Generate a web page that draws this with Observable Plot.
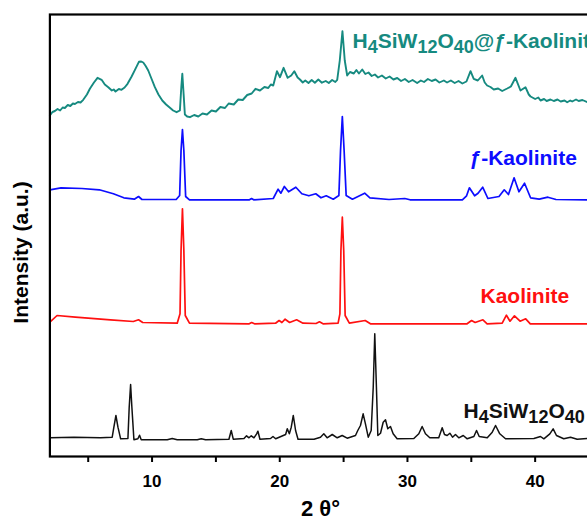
<!DOCTYPE html>
<html><head><meta charset="utf-8">
<script src="https://cdn.jsdelivr.net/npm/d3@7"></script>
<script src="https://cdn.jsdelivr.net/npm/@observablehq/plot@0.6"></script>
<style>
html,body{margin:0;padding:0;background:#fff;overflow:hidden;width:587px;height:521px}
#chart svg{max-width:none !important;}
</style></head><body><div id="chart"></div>
<script>
// ---- data (2θ in degrees, intensity in arbitrary units, traces stacked) ----
// [2θ, intensity] pairs
const tealPoints = [[2.00,341],[2.2,344.5],[2.39,345.5],[2.6,347.5],[2.8,346],[3.0,349],[3.17,348.5],[3.4,351.5],[3.6,350.5],[3.8,353],[3.96,352.5],[4.2,354.5],[4.4,354],[4.61,356.7],[4.9,362],[5.13,367.7],[5.45,374],[5.73,378.7],[6.05,376.7],[6.3,372],[6.57,369.3],[6.85,366],[7.0,367],[7.14,365],[7.4,367.5],[7.61,366.7],[7.85,369],[8.08,372.7],[8.4,380],[8.66,386.7],[8.97,394.7],[9.15,395],[9.31,394],[9.5,390.5],[9.70,386],[9.95,378],[10.22,369.3],[10.5,362],[10.80,356],[11.1,352],[11.40,348.7],[11.65,346],[11.92,344.3],[12.18,346],[12.29,369.3],[12.37,382.7],[12.47,362.7],[12.57,342],[12.75,340],
  [12.97,339.3],[13.3,341.5],[13.62,340],[13.95,343],[14.3,342],[14.66,346],[15.0,345],[15.35,349.5],[15.71,348.5],[16.0,353],[16.4,352],[16.75,357],[17.1,356.5],[17.45,361.5],[17.80,363],[18.1,367.7],[18.45,366],[18.8,369.5],[19.10,368.5],[19.3,372],[19.49,371],[19.78,385.3],[20.02,379.3],[20.30,388.7],[20.62,378.7],[20.9,381],[21.14,385.3],[21.4,379],[21.58,377],[21.8,374],[22.0,376],[22.25,373.5],[22.50,376.5],[22.75,373.8],[23.02,377],[23.3,373.8],[23.6,375.5],[23.84,373.5],[24.1,376.5],[24.35,374.5],[24.5,376.7],[24.70,396],[24.91,425.3],[25.09,396],[25.28,381],
  [25.5,384.5],[25.80,383],[26.0,386.5],[26.2,383],[26.46,387],[26.7,382.5],[26.95,384],[27.2,380.5],[27.45,382],[27.7,379],[28.0,381],[28.3,378],[28.6,380],[28.9,377],[29.2,378.5],[29.5,375.5],[29.8,377.5],[30.1,374.5],[30.4,376.5],[30.76,373.5],[31.05,376],[31.3,374.5],[31.6,377.5],[31.9,375.5],[32.2,377],[32.5,374],[32.85,376],[33.1,374],[33.4,376],[33.7,373.5],[34.0,375.5],[34.3,373],[34.62,375],[34.94,385.3],[35.19,377.7],[35.51,376],[35.85,381],[36.05,374],[36.24,371],[36.5,369.5],[36.76,367],[37.1,368],[37.42,365.5],[37.81,368],[38.1,370],[38.46,378.7],[38.85,366],[39.24,369.3],[39.5,362],[39.64,360],[40.0,357.5],[40.25,359],[40.42,356],[40.7,357.5],[40.9,355.5],[41.2,357],[41.46,355.5],[41.75,357],[42.0,355],[42.3,356],[42.51,354.2],[42.75,356],[42.9,355],[43.2,357],[43.41,355.5],[43.7,356.5],[44.1,354.3],[45.0,355]];

const blueTheta = [2.00,2.87,4.51,5.87,6.97,7.79,8.61,8.94,9.21,11.89,12.16,12.27,12.38,12.49,12.63,12.93,17.63,17.79,17.96,19.49,19.87,20.09,20.36,20.69,21.26,21.73,22.28,22.82,23.23,23.64,24.19,24.63,24.76,24.90,25.04,25.20,25.69,26.65,27.06,28.56,29.79,30.2,34.30,34.63,34.85,35.26,35.53,35.89,36.30,37.17,37.58,37.91,38.35,38.73,39.17,39.64,40.32,41.0,41.63,44.1,45.0];
const blueIntensity = [266.7,268.7,268,266.7,262.7,258.7,257.3,260,257,257,261,306,327,306,260,256.7,256.7,258,256.7,258,267.3,263.3,270,264.7,269.3,262.7,260.7,262.7,258.7,260.7,257.3,261,306,340,306,261,257.3,263.3,258.7,257,258,256.7,256.7,260.7,268.7,260.7,263.3,269.3,258,260,266.7,262,278.7,264.7,273.3,258.7,257.3,259.3,257,256.7,256.7];

const redTheta = [2.00,2.56,3.99,6.74,8.53,8.94,9.27,11.97,12.19,12.27,12.38,12.49,12.60,12.93,17.61,17.80,18.02,19.67,19.95,20.17,20.42,20.77,21.32,21.82,22.84,23.11,23.39,24.57,24.71,24.79,24.90,25.01,25.12,25.45,26.69,27.10,34.67,35.02,35.30,35.58,35.91,36.24,37.42,37.75,38.03,38.38,38.82,39.26,39.62,41.14,45.0];
const redIntensity = [134.3,141,139.3,136.7,135,136.7,134,133.3,142.7,206,247.7,206,141,133.3,132.7,134,132.7,133.3,136,134,137.3,134,136.7,133.3,133,134.7,132.7,133.3,142.7,206,239.3,206,141,133.3,136,132.7,132.7,136,134,135.3,136.7,132.7,133.3,141.3,135.3,140.7,135.3,137.7,132.7,132.7,132.7];

const blackTheta = [2.0,3.88,5.97,6.88,7.01,7.17,7.33,7.54,8.11,8.21,8.32,8.42,8.58,8.89,9.02,9.15,11.19,11.58,11.97,13.54,13.85,14.19,16.02,16.2,16.36,17.2,17.4,17.59,17.77,17.98,18.19,18.29,18.45,19.28,19.47,19.68,20.46,20.59,20.75,20.9,21.06,21.24,21.43,22.16,22.68,23.19,23.45,23.71,24.11,24.50,24.89,25.28,25.93,26.11,26.32,26.53,26.71,26.93,27.16,27.32,27.44,27.57,27.68,27.89,28.10,28.28,28.46,28.67,28.88,29.19,30.50,30.89,31.15,31.41,31.75,32.45,32.72,32.90,33.11,33.32,33.53,33.76,34.02,34.37,34.68,35.20,35.41,35.62,36.25,36.64,36.90,37.23,37.68,39.90,40.42,40.68,41.15,41.41,41.67,42.24,42.77,43.29,44.1,45.0];
const blackIntensity = [18.7,19.3,18.7,19.3,29.3,41,29.3,17.7,18,49.3,72,49.3,16.7,17.7,21.3,16.7,16.7,18,16.7,16.7,17.7,16.7,17.3,26,17.3,18,20.7,18.7,20.7,18.7,22.7,25.3,17.3,18,20,17.7,22,27.7,22.7,29.3,41,26,17.3,17.3,17.3,19.3,22.7,18.7,22,18.7,21,18.3,21,26,31,42.7,32.7,19.3,26,69.3,122.7,69.3,21,23.3,34.3,36.7,27.7,30,22.7,17.7,18,22.7,30,22.7,18.7,18.7,28.7,22,21,23.3,19.3,22,18.7,21,17.7,20,26,20,18.7,24.3,31,22.7,17.7,18,20,17.7,22.7,27.7,21,17.7,19.3,17.3,18,18];

const seriesNames = ["H4SiW12O40@f-Kaolinite", "f-Kaolinite", "Kaolinite", "H4SiW12O40"];
const labelTexts = ["H_{4}SiW_{12}O_{40}@ƒ-Kaolinite", "ƒ-Kaolinite", "Kaolinite", "H_{4}SiW_{12}O_{40}"];
const labelTheta = [25.7, 34.86, 35.72, 34.39];
const labelIntensity = [415.4, 298.4, 160.4, 45.4];
const xTickValues = [5, 10, 15, 20, 25, 30, 35, 40, 45];
const xTickLabels = [10, 20, 30, 40];

// ---- styles ----
const seriesColors = ["#168a80", "#0d0dff", "#ff1010", "#111111"];
const seriesWidths = [1.9, 1.7, 1.7, 1.5];

const traces = [
  [tealPoints.map(p => p[0]), tealPoints.map(p => p[1])],
  [blueTheta, blueIntensity],
  [redTheta, redIntensity],
  [blackTheta, blackIntensity]
].map(([t, v], i) => t.map((theta, j) => ({theta, intensity: v[j], series: seriesNames[i]})));

const labels = seriesNames.map((s, i) => ({series: s, text: labelTexts[i], theta: labelTheta[i], intensity: labelIntensity[i]}));

const plot = Plot.plot({
  width: 610,
  height: 521,
  marginLeft: 49.4,
  marginRight: 11.5,
  marginTop: 14,
  marginBottom: 65,
  style: {fontFamily: "'Liberation Sans', Arial, sans-serif", fontWeight: "bold", background: "#fff", color: "#000", maxWidth: "none"},
  x: {domain: [2, 45]},
  y: {domain: [0, 442], axis: null},
  color: {domain: seriesNames, range: seriesColors},
  marks: [
    ...traces.map((d, i) => Plot.line(d, {x: "theta", y: "intensity", stroke: seriesColors[i], strokeWidth: seriesWidths[i], strokeLinejoin: "round"})),
    Plot.axisX({ticks: xTickValues, tickSize: 6, tickPadding: 12, strokeWidth: 2, fontSize: 17, fontWeight: "bold",
      tickFormat: d => xTickLabels.includes(d) ? String(d) : "", label: null}),
    Plot.frame({stroke: "#000", strokeWidth: 2.2}),
    Plot.text(["Intensity (a.u.)"], {frameAnchor: "left", textAnchor: "middle", rotate: -90, dx: -29, dy: 17, fontSize: 21, fontWeight: "bold"}),
    Plot.text(["2 θ°"], {frameAnchor: "bottom", textAnchor: "middle", dx: -4, dy: 59, fontSize: 22, fontWeight: "bold"}),
    Plot.text(labels, {x: "theta", y: "intensity", text: "text", fill: "series", textAnchor: "start", fontSize: 21, fontWeight: "bold"})
  ]
});
plot.style.maxWidth = "none";
plot.setAttribute("width", 610);
plot.setAttribute("height", 521);

// render subscripts as real text with tspans
d3.select(plot).selectAll("text").filter(function () { return /_\{\d+\}/.test(this.textContent); }).each(function () {
  const s = this.textContent;
  const parts = s.split(/(_\{\d+\})/).filter(p => p);
  this.textContent = "";
  let low = false;
  for (const p of parts) {
    const m = p.match(/^_\{(\d+)\}$/);
    const t = d3.select(this).append("tspan");
    if (m) {
      t.text(m[1]).attr("font-size", "18px");
      if (!low) { t.attr("dy", 5); low = true; }
    } else {
      t.text(p);
      if (low) { t.attr("dy", -5); low = false; }
    }
  }
});

document.getElementById("chart").appendChild(plot);
</script></body></html>
